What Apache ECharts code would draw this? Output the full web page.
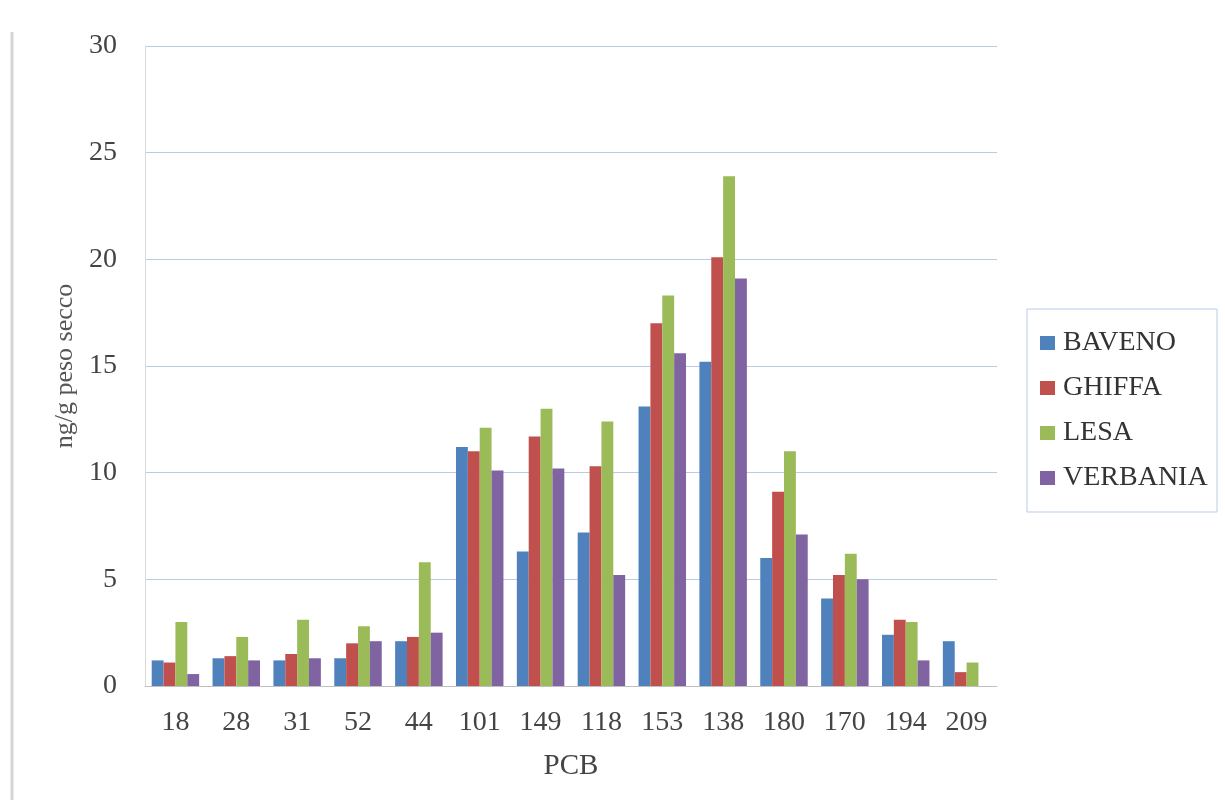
<!DOCTYPE html>
<html>
<head>
<meta charset="utf-8">
<script src="https://cdn.jsdelivr.net/npm/echarts@6/dist/echarts.min.js"></script>
<style>
  html, body { margin: 0; padding: 0; background: #ffffff; }
  #chart { width: 1225px; height: 807px; }
</style>
</head>
<body>
<div id="chart"></div>
<script>
// PCB congeners on the category axis
const congeners = ['18', '28', '31', '52', '44', '101', '149', '118', '153', '138', '180', '170', '194', '209'];

// Concentrations per sampling station
const baveno   = [1.2, 1.3, 1.2, 1.3, 2.1, 11.2, 6.3, 7.2, 13.1, 15.2, 6.0, 4.1, 2.4, 2.1];
const ghiffa   = [1.1, 1.4, 1.5, 2.0, 2.3, 11.0, 11.7, 10.3, 17.0, 20.1, 9.1, 5.2, 3.1, 0.65];
const lesa     = [3.0, 2.3, 3.1, 2.8, 5.8, 12.1, 13.0, 12.4, 18.3, 23.9, 11.0, 6.2, 3.0, 1.1];
const verbania = [0.56, 1.2, 1.3, 2.1, 2.5, 10.1, 10.2, 5.2, 15.6, 19.1, 7.1, 5.0, 1.2, 0];

const stationNames = ['BAVENO', 'GHIFFA', 'LESA', 'VERBANIA'];
const stationValues = [baveno, ghiffa, lesa, verbania];
const stationColors = ['#4F81BD', '#C0504D', '#9BBB59', '#8064A2'];

const FONT = '"Liberation Serif", "Times New Roman", serif';

const chart = echarts.init(document.getElementById('chart'), null, { renderer: 'canvas' });

chart.setOption({
  backgroundColor: '#ffffff',
  animation: false,
  color: stationColors,
  grid: { left: 145, right: 228, top: 46, bottom: 121, containLabel: false },
  legend: {
    orient: 'vertical',
    left: 1027,
    top: 309,
    padding: [20, 12, 20, 13],
    itemGap: 17,
    itemWidth: 15,
    itemHeight: 14,
    icon: 'rect',
    textStyle: { fontFamily: FONT, fontSize: 28, color: '#333333', padding: [0, 0, 0, 3] },
    data: stationNames
  },
  xAxis: {
    type: 'category',
    data: congeners,
    name: 'PCB',
    nameLocation: 'middle',
    nameGap: 66,
    nameTextStyle: { fontFamily: FONT, fontSize: 29, color: '#444444' },
    axisLine: { show: true, lineStyle: { color: '#bfbfbf', width: 1 } },
    axisTick: { show: false },
    axisLabel: { fontFamily: FONT, fontSize: 28, color: '#444444', margin: 23 },
    splitLine: { show: false }
  },
  yAxis: {
    type: 'value',
    min: 0,
    max: 30,
    interval: 5,
    name: 'ng/g peso secco',
    nameLocation: 'middle',
    nameGap: 66,
    nameTextStyle: { fontFamily: FONT, fontSize: 26, color: '#555555' },
    axisLine: { show: true, lineStyle: { color: '#d9d9d9', width: 1 } },
    axisTick: { show: false },
    axisLabel: { fontFamily: FONT, fontSize: 28, color: '#444444', margin: 28 },
    splitLine: { show: true, lineStyle: { color: '#b9cbe6', width: 1 } }
  },
  graphic: [
    {
      type: 'line',
      shape: { x1: 12, y1: 32, x2: 12, y2: 800 },
      style: { stroke: '#d6d6d6', lineWidth: 3 },
      silent: true
    },
    {
      type: 'rect',
      shape: { x: 1027, y: 309, width: 190, height: 203 },
      style: { fill: 'none', stroke: '#b9cbe6', lineWidth: 1 },
      silent: true
    }
  ],
  series: stationNames.map((name, i) => ({
    name: name,
    type: 'bar',
    data: stationValues[i],
    barGap: '0%',
    barCategoryGap: '22%',
    itemStyle: { color: stationColors[i] }
  }))
});
</script>
</body>
</html>
